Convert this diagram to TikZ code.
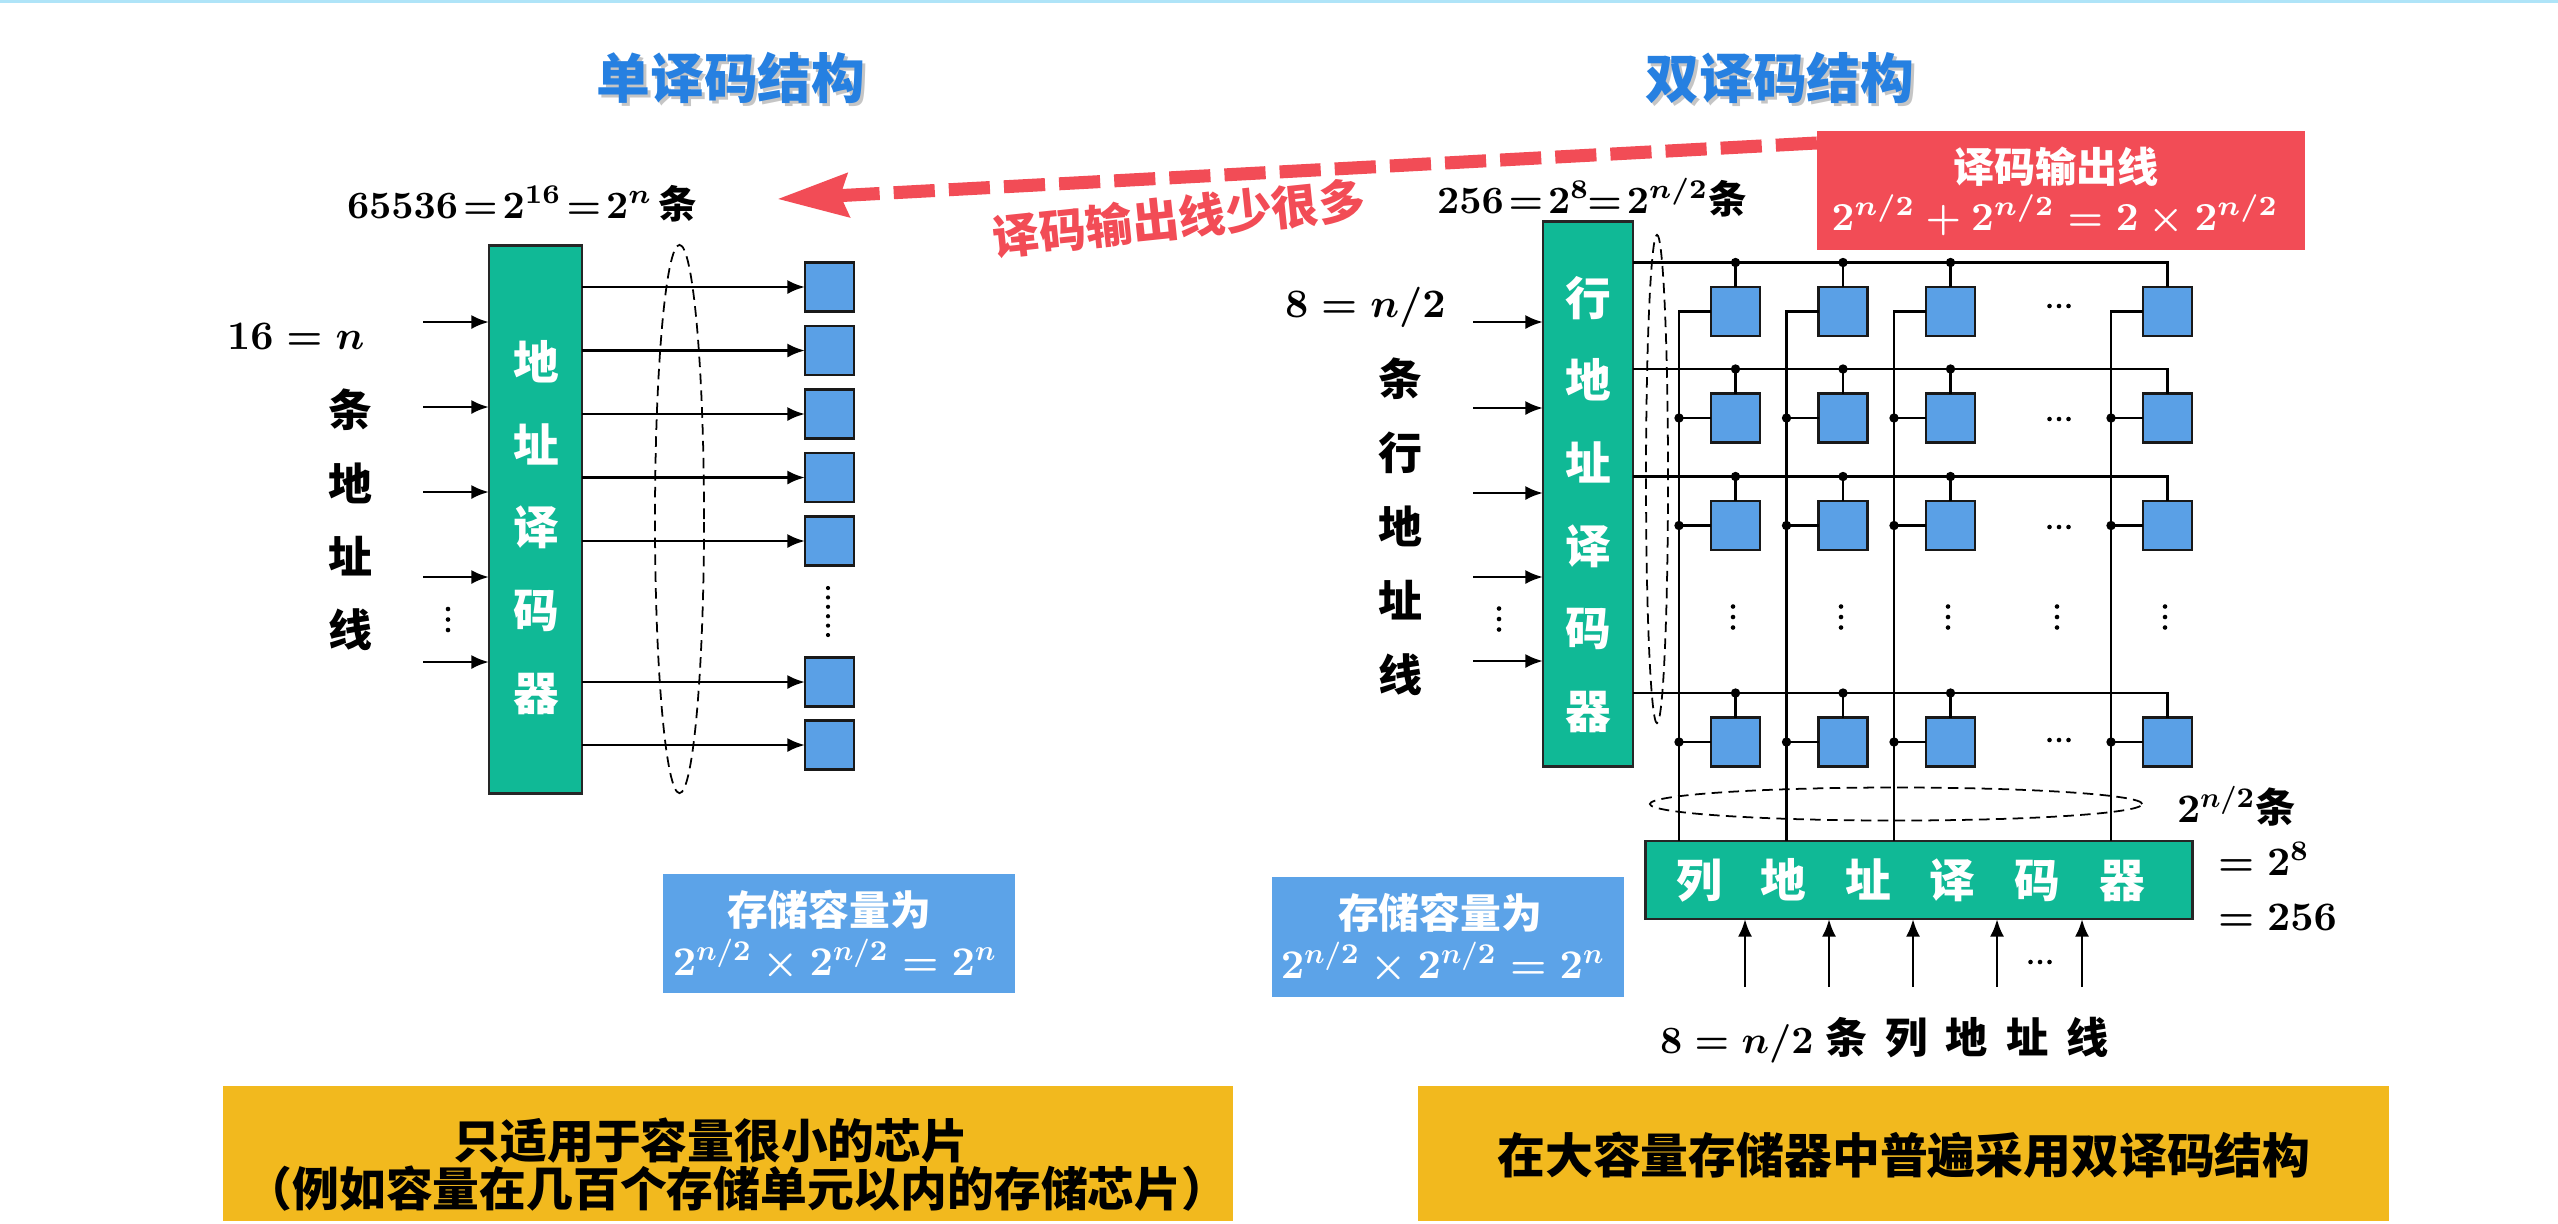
\documentclass[tikz,border=0pt]{standalone}
\usepackage{fix-cm}
\usepackage[no-math]{fontspec}
\setmainfont{Noto Sans CJK SC}
\usetikzlibrary{arrows.meta,shapes.geometric,calc}
\definecolor{tealc}{RGB}{16,185,150}
\definecolor{cellblue}{RGB}{90,160,230}
\definecolor{boxblue}{RGB}{92,163,232}
\definecolor{redc}{RGB}{242,76,86}
\definecolor{orangec}{RGB}{242,185,30}
\definecolor{titleblue}{RGB}{38,128,225}
\definecolor{topcyan}{RGB}{175,228,248}
\newcommand\fsz[2]{\fontsize{#1}{#2}\selectfont}
\newcommand\tightrel{\thickmuskip=2mu plus 1mu\medmuskip=2mu}
\newcommand\dotsH[2]{\foreach \k in {-1,0,1}{\fill ({#1+\k*9.5},#2) circle (2.3);}}
\newcommand\dotsV[2]{\foreach \k in {-1,0,1}{\fill (#1,{#2+\k*10.5}) circle (2.3);}}
\tikzset{
  every node/.style={inner sep=0pt, outer sep=0pt},
  decbox/.style={draw=black!85, fill=tealc, line width=0.8pt},
  cell/.style={draw=black!90, fill=cellblue, line width=0.7pt, minimum size=0.49cm},
  wire/.style={line width=0.6pt},
  arr/.style={line width=0.8pt, -{Latex[length=5pt,width=4pt]}},
  dashell/.style={draw, ellipse, dash pattern=on 3pt off 1.8pt, line width=0.5pt},
  titlefont/.style={font=\fsz{15.3}{18}\bfseries},
  mathlbl/.style={font=\fsz{11.5}{14}\bfseries\boldmath},
  cjkv/.style={font=\fsz{12.5}{20.9}\bfseries, align=center},
  dectext/.style={font=\fsz{13}{23.5}\bfseries, text=white, align=center},
  infobox/.style={fill=boxblue},
  notebox/.style={fill=orangec},
  wtext/.style={font=\fsz{11.6}{14}\bfseries\boldmath, text=white},
  notetext/.style={font=\fsz{13.3}{16}\bfseries},
}
\begin{document}
\begin{tikzpicture}[x=0.01cm,y=-0.01cm]
\useasboundingbox (0,0) rectangle (2558,1223);
\fill[white] (0,0) rectangle (2558,1223);
\draw[topcyan, line width=0.9pt] (0,1.5) -- (2558,1.5);

% ---------- titles ----------
\node[titlefont, text=gray, opacity=0.45] (t1s) at (734,81) {单译码结构};
\node[titlefont, text=titleblue] (t1) at (731,78) {单译码结构};
\node[titlefont, text=gray, opacity=0.45] (t2s) at (1783,81) {双译码结构};
\node[titlefont, text=titleblue] (t2) at (1780,78) {双译码结构};

% ---------- left: single decoding ----------
\node[decbox, minimum width=0.93cm, minimum height=5.47cm] (ld) at (535.5,519.5) {};
\node[dectext, font=\fsz{13}{23.55}\bfseries] (ldt) at (536,527.5) {地\\址\\译\\码\\器};

\node[mathlbl, font=\fsz{11}{14}\bfseries\boldmath\tightrel, anchor=base west] (l65) at (347,218) {$65536 = 2^{16} = 2^{n}$\,条};
\node[mathlbl, anchor=base west] (l16) at (227,349) {$16 = n$};
\node[cjkv] (lv) at (350,520) {条\\地\\址\\线};

\foreach \i/\y in {1/322,2/407,3/492,4/577,5/662}{
  \coordinate (li\i) at (423,\y);
  \draw[arr] (li\i) -- (li\i -| ld.west);
}
\dotsV{448}{619.5}

\foreach \i/\y in {1/287,2/350.5,3/414,4/477.5,5/541,6/682,7/745}{
  \node[cell] (s\i) at (829.5,\y) {};
  \draw[arr] (ld.east |- s\i.west) -- (s\i.west);
}
\foreach \k in {0,...,5}{\fill (828,{588+\k*9.4}) circle (2.1);}
\node[dashell, minimum width=0.49cm, minimum height=5.48cm] (le) at (679.5,519) {};

\node[infobox, minimum width=3.52cm, minimum height=1.19cm] (lib) at (839,933.5) {};
\node[wtext] (libt1) at (829,910) {存储容量为};
\node[wtext] (libt2) at (835,960) {$2^{n/2}\times 2^{n/2} = 2^{n}$};

\node[notebox, minimum width=10.10cm, minimum height=1.35cm] (lnb) at (728,1153.5) {};
\node[notetext] (lnb1) at (711,1141) {只适用于容量很小的芯片};
\node[notetext] (lnb2) at (737,1189) {（例如容量在几百个存储单元以内的存储芯片）};

% ---------- right: double decoding ----------
\node[decbox, minimum width=0.90cm, minimum height=5.44cm] (rd) at (1588,494) {};
\node[dectext] (rdt) at (1588,504.5) {行\\地\\址\\译\\码\\器};
\node[mathlbl, font=\fsz{11}{14}\bfseries\boldmath\tightrel, anchor=base west] (l256) at (1437,213) {$256 = 2^{8}\!= 2^{n/2}$条};
\node[mathlbl, anchor=base west] (l8) at (1285,317) {$8 = n/2$};
\node[cjkv, font=\fsz{12.5}{21.05}\bfseries] (rv) at (1400,526.5) {条\\行\\地\\址\\线};

\foreach \i/\y in {1/322,2/408,3/493,4/577,5/661}{
  \coordinate (ri\i) at (1473,\y);
  \draw[arr] (ri\i) -- (ri\i -| rd.west);
}
\dotsV{1499}{619}

% cells
\foreach \c/\x in {1/1735.5,2/1843,3/1950.5,4/2167.5}{
  \foreach \r/\y in {1/311.5,2/418,3/525.5,4/742}{
    \node[cell] (c\r\c) at (\x,\y) {};
  }
}
% column decoder
\node[decbox, minimum width=5.46cm, minimum height=0.78cm] (cd) at (1919,880) {};
\node[font=\fsz{13}{14}\bfseries, text=white] (cdt) at (1910.5,880) {列\hspace{0.85em}地\hspace{0.85em}址\hspace{0.85em}译\hspace{0.85em}码\hspace{0.85em}器};

% row (word) lines
\foreach \r/\y in {1/262.5,2/369,3/476.5,4/693}{
  \coordinate (rs\r) at (1633,\y);
  \draw[wire] (rs\r) -| (c\r4.north);
  \foreach \c in {1,2,3}{
    \draw[wire] (rs\r -| c\r\c.north) -- (c\r\c.north);
    \fill (rs\r -| c\r\c.north) circle (4.7);
  }
}
% column (bit) lines
\foreach \c/\x in {1/1679,2/1786.5,3/1894,4/2111}{
  \coordinate (k\c) at (\x,841);
  \draw[wire] (c1\c.west) -| (k\c);
  \foreach \r in {2,3,4}{
    \draw[wire] (k\c |- c\r\c.west) -- (c\r\c.west);
    \fill (k\c |- c\r\c.west) circle (4.7);
  }
}
% ellipsis dots in the matrix
\foreach \y in {306,419,527,740}{\dotsH{2059}{\y}}
\foreach \x in {1733,1841,1948,2057,2165}{\dotsV{\x}{617}}

% dashed groupings
\node[dashell, minimum width=0.22cm, minimum height=4.88cm] (re) at (1657,479) {};
\node[dashell, minimum width=4.92cm, minimum height=0.33cm] (he) at (1896,804) {};

% column address inputs
\foreach \i/\x in {1/1745,2/1829,3/1913,4/1997,5/2082}{
  \coordinate (ci\i) at (\x,987);
  \draw[arr] (ci\i) -- (ci\i |- cd.south);
}
\dotsH{2040}{962}

\node[mathlbl, anchor=base west] (ln2) at (2177,822) {$2^{n/2}$条};
\node[mathlbl, anchor=base west] (l28) at (2218,875) {$= 2^{8}$};
\node[mathlbl, anchor=base west] (l256b) at (2218,930) {$= 256$};
\node[mathlbl, font=\fsz{11}{14}\bfseries\boldmath, anchor=base west] (lcol) at (1660,1053) {$8 = n/2$\hspace{0.3em}{\fontsize{12}{14}\selectfont 条\hspace{0.43em}列\hspace{0.43em}地\hspace{0.43em}址\hspace{0.43em}线}};

% red box
\node[fill=redc, minimum width=4.88cm, minimum height=1.19cm] (rb) at (2061,190.5) {};
\node[wtext, font=\fsz{11.7}{14}\bfseries] (rbt1) at (2056,167) {译码输出线};
\node[wtext, font=\fsz{11.3}{14}\bfseries\boldmath] (rbt2) at (2055,215) {$2^{n/2} + 2^{n/2} = 2\times 2^{n/2}$};

% red dashed arrow
\coordinate (atip) at (777,199);
\draw[redc, line width=3.7pt, dash pattern=on 11.7pt off 4pt,
      -{Stealth[length=20pt,width=12pt,inset=2pt]}]
      ($(rb.north west)+(0,12)$) -- (atip);
\node[font=\fsz{13.3}{16}\bfseries, text=redc, rotate=6] (less) at (1179,218) {译码输出线少很多};

% right info box
\node[infobox, minimum width=3.52cm, minimum height=1.20cm] (rib) at (1448,937) {};
\node[wtext] (ribt1) at (1440,913) {存储容量为};
\node[wtext] (ribt2) at (1443,963) {$2^{n/2}\times 2^{n/2} = 2^{n}$};

\node[notebox, minimum width=9.71cm, minimum height=1.35cm] (rnb) at (1903.5,1153.5) {};
\node[notetext, font=\fsz{13.6}{16}\bfseries] (rnb1) at (1904,1155) {在大容量存储器中普遍采用双译码结构};
\end{tikzpicture}
\end{document}
